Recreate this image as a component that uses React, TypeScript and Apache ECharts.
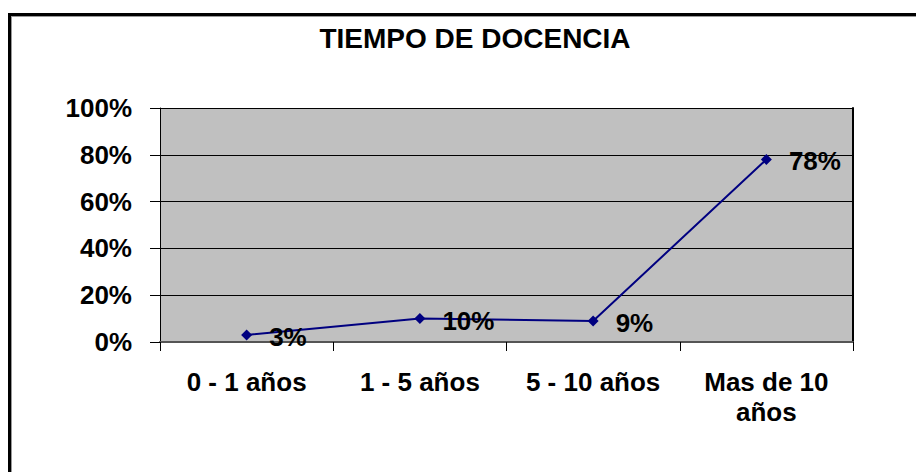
import React, { useEffect, useRef } from "react";
import * as echarts from "echarts";

const title = "TIEMPO DE DOCENCIA";
const categories = ["0 - 1 años", "1 - 5 años", "5 - 10 años", "Mas de 10\naños"];
const values = [3, 10, 9, 78];
const yTicks = [0, 20, 40, 60, 80, 100];

const FONT = "'Liberation Sans', Arial, sans-serif";

export default function App() {
  const ref = useRef<HTMLDivElement>(null);
  useEffect(() => {
    if (!ref.current) return;
    const chart = echarts.init(ref.current, undefined, { renderer: "svg" });
    chart.setOption({
      animation: false,
      backgroundColor: "#ffffff",
      title: {
        text: title,
        left: 470,
        top: 19,
        textAlign: "center",
        textStyle: { fontFamily: FONT, fontWeight: "bold", fontSize: 28, color: "#000" },
      },
      graphic: [
        { type: "rect", shape: { x: 8, y: 13, width: 920, height: 3 }, style: { fill: "#000" } },
        { type: "rect", shape: { x: 8, y: 13, width: 3, height: 470 }, style: { fill: "#000" } },
        { type: "rect", shape: { x: 11, y: 16, width: 910, height: 1 }, style: { fill: "#999" } },
        { type: "rect", shape: { x: 11, y: 16, width: 1, height: 460 }, style: { fill: "#999" } },
      ],
      grid: {
        left: 160,
        right: 63,
        top: 108,
        bottom: 130,
        show: true,
        backgroundColor: "#C0C0C0",
        borderColor: "#000",
        borderWidth: 0,
      },
      xAxis: {
        type: "category",
        data: categories,
        boundaryGap: true,
        axisLine: { show: true, lineStyle: { color: "#555", width: 2 } },
        axisTick: { show: true, length: 9, lineStyle: { color: "#000", width: 1 } },
        axisLabel: {
          interval: 0,
          margin: 25,
          fontFamily: FONT,
          fontWeight: "bold",
          fontSize: 26,
          color: "#000",
          lineHeight: 30,
          align: "center",
        },
        splitLine: { show: false },
      },
      yAxis: [
        {
          type: "value",
          min: yTicks[0],
          max: yTicks[yTicks.length - 1],
          interval: 20,
          axisLine: { show: true, lineStyle: { color: "#000", width: 1 } },
          axisTick: { show: true, length: 10, lineStyle: { color: "#000" } },
          axisLabel: {
            margin: 28,
            formatter: (v: number) => `${v}%`,
            fontFamily: FONT,
            fontWeight: "bold",
            fontSize: 26,
            color: "#000",
          },
          splitLine: { show: true, lineStyle: { color: "#000", width: 1 } },
        },
        {
          type: "value",
          position: "right",
          min: yTicks[0],
          max: yTicks[yTicks.length - 1],
          interval: 20,
          axisLine: { show: true, lineStyle: { color: "#000", width: 2 } },
          axisTick: { show: false },
          axisLabel: { show: false },
          splitLine: { show: false },
        },
      ],
      series: [
        {
          type: "line",
          data: values,
          yAxisIndex: 0,
          symbol: "diamond",
          symbolSize: 11,
          itemStyle: { color: "#000080" },
          lineStyle: { color: "#000080", width: 2 },
          label: {
            show: true,
            position: "right",
            distance: 17,
            formatter: (p: any) => `${p.value}%`,
            fontFamily: FONT,
            fontWeight: "bold",
            fontSize: 26,
            color: "#000",
            offset: [0, 2],
          },
        },
      ],
    });
    return () => chart.dispose();
  }, []);
  return <div ref={ref} style={{ width: 916, height: 472, position: "absolute", left: 0, top: 0 }} />;
}
